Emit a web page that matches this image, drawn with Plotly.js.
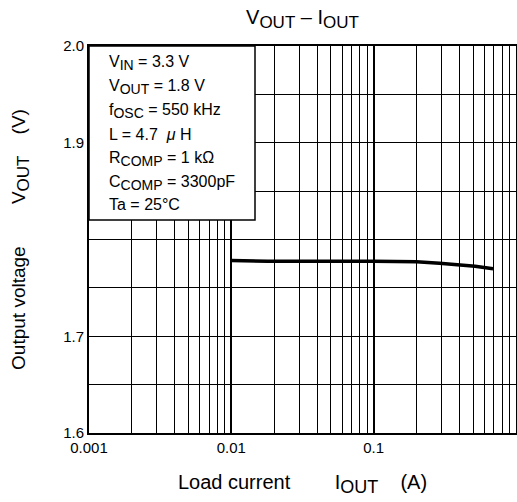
<!DOCTYPE html>
<html>
<head>
<meta charset="utf-8">
<script src="https://cdn.plot.ly/plotly-3.0.1.min.js"></script>
<style>html,body{margin:0;padding:0;background:#fff;}#chart{width:517px;height:502px;}</style>
</head>
<body>
<div id="chart"></div>
<script>
// Data
const loadCurrent = [0.01, 0.018, 0.1, 0.2, 0.29, 0.385, 0.516, 0.69];
const outputVoltage = [1.7782, 1.7775, 1.7774, 1.7769, 1.7755, 1.7740, 1.7724, 1.7697];

// Axis ticks
const xMajorTicks = [0.001, 0.01, 0.1, 1];
const xMajorLabels = ['0.001', '0.01', '0.1', '1'];
const xMinorTicks = [0.002,0.003,0.004,0.005,0.006,0.007,0.008,0.009,
                     0.02,0.03,0.04,0.05,0.06,0.07,0.08,0.09,
                     0.2,0.3,0.4,0.5,0.6,0.7,0.8,0.9];
const yMajorTicks = [1.6, 1.7, 1.8, 1.9, 2.0];
const yMajorLabels = ['1.6', '1.7', '', '1.9', '2.0'];
const yMinorTicks = [1.65, 1.75, 1.85, 1.95];

// Condition box text
const S = s => '<sub><span style="font-size:14px">' + s + '</span></sub>';
const boxLines = [
  'V' + S('IN') + ' = 3.3 V',
  'V' + S('OUT') + ' = 1.8 V',
  'f' + S('OSC') + ' = 550 kHz',
  'L = 4.7 &nbsp;<i>μ</i> H',
  'R' + S('COMP') + ' = 1 kΩ',
  'C' + S('COMP') + ' = 3300pF',
  'Ta = 25°C'
];
const boxLineY = [63, 87, 111, 134, 159, 183, 205];

const W = 517, H = 502;
const M = {l: 89, r: 1, t: 46, b: 69};
const plotH = H - M.t - M.b;
const FONT = 'Liberation Sans, Arial, Helvetica, sans-serif';

const annotations = boxLines.map((t, i) => ({
  text: t, xref: 'paper', yref: 'paper',
  x: (107 - M.l) / (W - M.l - M.r), y: (H - M.b - boxLineY[i]) / plotH,
  xanchor: 'left', yanchor: 'middle', showarrow: false,
  font: {family: FONT, size: 16, color: '#000'}
}));

const trace = {
  x: loadCurrent, y: outputVoltage, type: 'scatter', mode: 'lines',
  line: {color: '#000', width: 3.5}, hoverinfo: 'skip'
};

const layout = {
  width: W, height: H,
  margin: M,
  paper_bgcolor: '#fff', plot_bgcolor: '#fff',
  showlegend: false,
  font: {family: FONT, color: '#000'},
  title: {
    text: 'V' + '<sub><span style="font-size:17px">OUT</span></sub>' + ' – I' + '<sub><span style="font-size:17px">OUT</span></sub>',
    font: {family: FONT, size: 20, color: '#000'},
    xref: 'paper', x: 0.5, xanchor: 'center',
    yref: 'container', y: 1 - 17 / H, yanchor: 'middle'
  },
  xaxis: {
    type: 'log', range: [-3, 0],
    tickmode: 'array', tickvals: xMajorTicks, ticktext: xMajorLabels,
    ticks: '', showgrid: true, gridcolor: '#000', gridwidth: 2,
    minor: {tickmode: 'array', tickvals: xMinorTicks, showgrid: true, gridcolor: '#000', gridwidth: 1, ticks: ''},
    showline: true, linecolor: '#000', linewidth: 2, mirror: true,
    zeroline: false,
    tickfont: {family: FONT, size: 15, color: '#000'},
    title: {
      text: 'Load current&nbsp;&nbsp;&nbsp;&nbsp;&nbsp;&nbsp;&nbsp;&nbsp;I<sub><span style="font-size:18px">OUT</span></sub>&nbsp;&nbsp;&nbsp;&nbsp;(A)',
      font: {family: FONT, size: 20, color: '#000'}, standoff: 20
    }
  },
  yaxis: {
    range: [1.6, 2.0],
    tickmode: 'array', tickvals: yMajorTicks, ticktext: yMajorLabels,
    ticks: '', showgrid: true, gridcolor: '#000', gridwidth: 1,
    minor: {tickmode: 'array', tickvals: yMinorTicks, showgrid: true, gridcolor: '#000', gridwidth: 1, ticks: ''},
    showline: true, linecolor: '#000', linewidth: 2, mirror: true,
    zeroline: false,
    tickfont: {family: FONT, size: 15, color: '#000'},
    title: {
      text: 'Output voltage&nbsp;&nbsp;&nbsp;&nbsp;&nbsp;&nbsp;&nbsp;&nbsp;V<sub><span style="font-size:17px">OUT</span></sub>&nbsp;&nbsp;&nbsp;&nbsp;(V)',
      font: {family: FONT, size: 19, color: '#000'}, standoff: 32
    }
  },
  shapes: [{
    type: 'rect', xref: 'paper', yref: 'paper',
    x0: 0, x1: (255 - M.l) / (W - M.l - M.r),
    y0: (H - M.b - 220) / plotH, y1: 1,
    fillcolor: '#fff', line: {color: '#000', width: 1.5}, layer: 'above'
  }],
  annotations: annotations
};

Plotly.newPlot('chart', [trace], layout, {staticPlot: true, displayModeBar: false});
</script>
</body>
</html>
